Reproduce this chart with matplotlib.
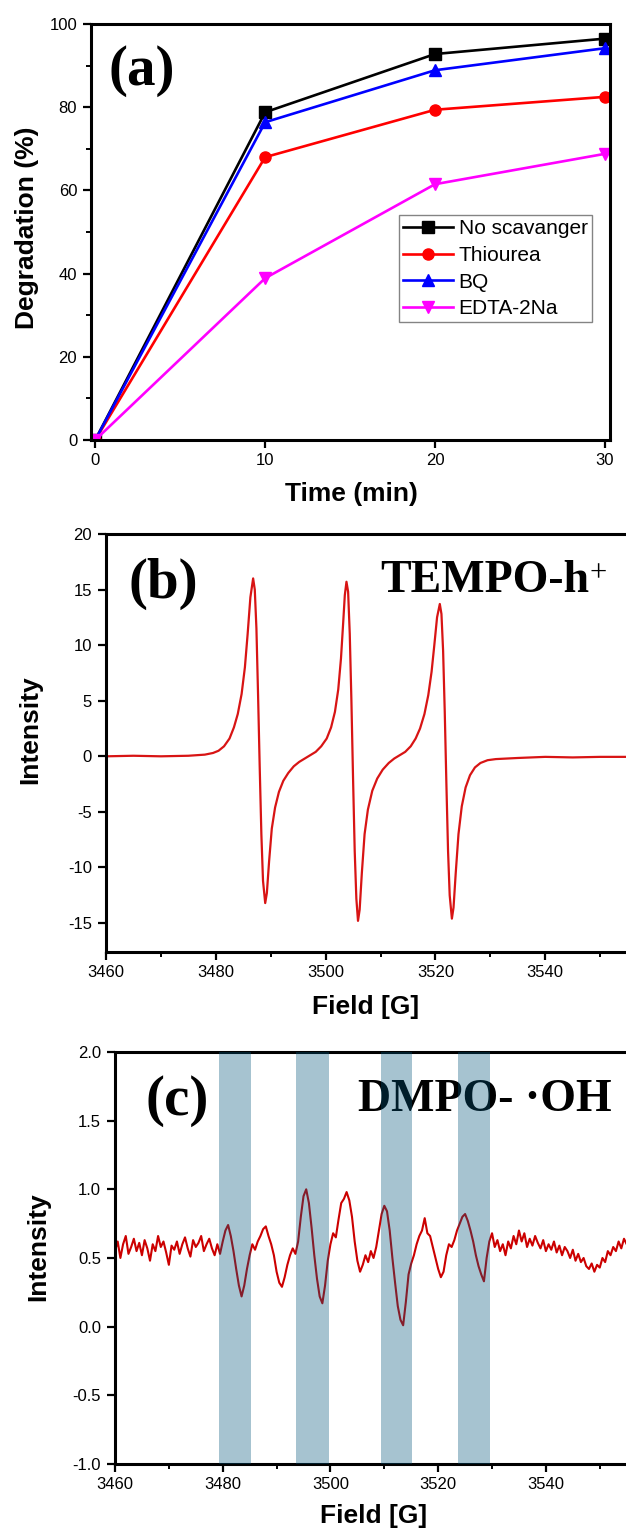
import matplotlib

matplotlib.use("Agg")
import matplotlib.pyplot as plt  # noqa: E402
import numpy as np  # noqa: E402

plt.rcParams["font.family"] = "Liberation Sans"
plt.rcParams["axes.unicode_minus"] = False

# ---- panel (a): scavenger experiment ----
TIME = [0, 10, 20, 30]
NO_SCAV = [0.0, 78.8, 92.8, 96.5]
THIOUREA = [0.0, 68.0, 79.4, 82.5]
BQ = [0.0, 76.4, 88.9, 94.2]
EDTA = [0.0, 38.9, 61.5, 68.8]
SERIES_A = [("No scavanger", NO_SCAV, "black", "s"),
            ("Thiourea", THIOUREA, "#ff0000", "o"),
            ("BQ", BQ, "#0000ff", "^"),
            ("EDTA-2Na", EDTA, "#ff00ff", "v")]

# ---- panel (b): TEMPO-h+ EPR spectrum ----
FIELD_B = [3460, 3465, 3470, 3475, 3478, 3479.5, 3480.5, 3481.5, 3482.5, 3483.3, 3484, 3484.7,
           3485.3, 3485.8, 3486.3, 3486.8, 3487.1, 3487.4, 3487.7, 3488.0, 3488.3, 3488.6, 3489.0,
           3489.3, 3489.7, 3490.2, 3490.8, 3491.5, 3492.3, 3493.2, 3494.2, 3495.2, 3496.2, 3497.2,
           3498.2, 3499.2, 3500.2, 3501.0, 3501.7, 3502.3, 3502.8, 3503.2, 3503.5, 3503.8, 3504.1,
           3504.4, 3504.7, 3505.0, 3505.3, 3505.6, 3505.9, 3506.2, 3506.6, 3507.1, 3507.7, 3508.5,
           3509.4, 3510.4, 3511.5, 3512.5, 3513.5, 3514.5, 3515.5, 3516.4, 3517.2, 3518.0, 3518.7,
           3519.3, 3519.8, 3520.3, 3520.8, 3521.1, 3521.4, 3521.7, 3522.0, 3522.3, 3522.6, 3523.0,
           3523.3, 3523.7, 3524.2, 3524.8, 3525.5, 3526.3, 3527.2, 3528.2, 3529.5, 3531, 3535, 3540,
           3545, 3550, 3556]
INT_B = [0.0, 0.05, 0.0, 0.05, 0.15, 0.3, 0.5, 0.9, 1.6, 2.6, 3.8, 5.6,
         8.0, 11.0, 14.3, 16.0, 15.0, 11.5, 5.5, -1.0, -7.0, -11.2, -13.2,
         -12.3, -9.5, -6.5, -4.6, -3.2, -2.2, -1.5, -0.9, -0.5, -0.2, 0.1,
         0.4, 0.9, 1.6, 2.6, 4.0, 6.0, 8.8, 12.0, 14.5, 15.7, 14.8,
         11.0, 5.0, -2.0, -8.5, -12.8, -14.8, -13.8, -10.5, -7.0, -4.8, -3.1,
         -2.0, -1.2, -0.6, -0.2, 0.1, 0.4, 0.9, 1.6, 2.5, 3.8, 5.5,
         7.6, 10.0, 12.5, 13.7, 12.8, 9.5, 4.0, -2.5, -8.5, -12.5, -14.6,
         -13.6, -10.5, -7.0, -4.5, -2.8, -1.7, -1.0, -0.6, -0.35, -0.25, -0.15, -0.05,
         -0.1, -0.05, -0.05]

# ---- panel (c): DMPO-OH EPR spectrum, sampled every 0.5 G from 3460 G ----
FIELD_C_START = 3460.0
FIELD_C_STEP = 0.5
INT_C = [
    0.55, 0.62, 0.50, 0.60, 0.66, 0.53, 0.58, 0.64, 0.55, 0.61,
    0.52, 0.63, 0.57, 0.48, 0.60, 0.55, 0.66, 0.58, 0.62, 0.54,
    0.45, 0.59, 0.56, 0.62, 0.53, 0.60, 0.65, 0.57, 0.51, 0.63,
    0.58, 0.61, 0.66, 0.55, 0.60, 0.64, 0.57, 0.52, 0.60, 0.53,
    0.62, 0.70, 0.74, 0.66, 0.55, 0.42, 0.30, 0.22, 0.30, 0.42,
    0.52, 0.60, 0.56, 0.62, 0.66, 0.71, 0.73, 0.66, 0.60, 0.52,
    0.40, 0.32, 0.29, 0.36, 0.45, 0.52, 0.57, 0.53, 0.62, 0.80,
    0.95, 1.00, 0.90, 0.72, 0.52, 0.35, 0.22, 0.17, 0.30, 0.48,
    0.60, 0.68, 0.65, 0.78, 0.90, 0.93, 0.98, 0.92, 0.80, 0.62,
    0.48, 0.40, 0.45, 0.52, 0.47, 0.55, 0.50, 0.58, 0.70, 0.82,
    0.88, 0.84, 0.70, 0.50, 0.32, 0.15, 0.05, 0.01, 0.18, 0.38,
    0.46, 0.52, 0.60, 0.66, 0.70, 0.79, 0.68, 0.66, 0.58, 0.50,
    0.42, 0.36, 0.40, 0.52, 0.60, 0.58, 0.63, 0.70, 0.75, 0.80,
    0.82, 0.77, 0.70, 0.62, 0.52, 0.44, 0.38, 0.33, 0.50, 0.62,
    0.68, 0.58, 0.63, 0.55, 0.60, 0.52, 0.62, 0.57, 0.66, 0.60,
    0.70, 0.62, 0.68, 0.58, 0.64, 0.59, 0.66, 0.61, 0.57, 0.63,
    0.55, 0.60, 0.56, 0.62, 0.54, 0.59, 0.52, 0.58, 0.55, 0.50,
    0.56, 0.48, 0.53, 0.47, 0.50, 0.44, 0.42, 0.46, 0.40, 0.45,
    0.43, 0.50, 0.47, 0.55, 0.52, 0.58, 0.55, 0.62, 0.57, 0.64,
    0.60, 0.58, 0.62,
]
BANDS_C = [(3479.4, 3485.2), (3493.6, 3499.7), (3509.4, 3515.1), (3523.6, 3529.6)]

TICK_FS, LABEL_FS = 12, 19
SERIF = "Liberation Serif"


def style_axes(ax):
    for s in ax.spines.values():
        s.set_linewidth(2.2)
    ax.tick_params(which="major", direction="out", length=6, width=1.6, labelsize=TICK_FS)
    ax.tick_params(which="minor", direction="out", length=3.5, width=1.4)
    ax.tick_params(axis="x", pad=3.5)
    ax.tick_params(axis="y", pad=4)
    ax.tick_params(top=False, right=False, which="both")


fig = plt.figure(figsize=(6.26, 15.33), dpi=100)

# (a)
ax1 = fig.add_axes([0.1454, 0.7130, 0.8291, 0.2713])
for lab, vals, col, mk in SERIES_A:
    ax1.plot(TIME, vals, color=col, marker=mk, ms=8, lw=1.9, label=lab)
ax1.set_xlim(-0.25, 30.3)
ax1.set_ylim(0, 100)
ax1.set_xticks([0, 10, 20, 30])
ax1.set_yticks([0, 20, 40, 60, 80, 100])
ax1.set_yticks([10, 30, 50, 70, 90], minor=True)
style_axes(ax1)
ax1.set_xlabel("Time (min)", fontsize=LABEL_FS, fontweight="bold")
ax1.set_ylabel("Degradation (%)", fontsize=LABEL_FS, fontweight="bold")
ax1.xaxis.set_label_coords(0.501, -0.101)
ax1.yaxis.set_label_coords(-0.100, 0.51)
ax1.text(0.098, 0.887, "(a)", transform=ax1.transAxes, fontsize=41, fontweight="bold",
         family=SERIF, ha="center", va="center")
leg = ax1.legend(loc="upper right", bbox_to_anchor=(0.965, 0.541), borderaxespad=0,
                 fontsize=15, numpoints=1, handlelength=2.4, handletextpad=0.28,
                 labelspacing=0.37, borderpad=0.2, fancybox=False)
leg.get_frame().set_edgecolor("#666666")
leg.get_frame().set_linewidth(1.0)

# (b)
ax2 = fig.add_axes([0.1693, 0.3790, 0.8420, 0.2727])
ax2.plot(FIELD_B, INT_B, color="#d81414", lw=1.6)
ax2.set_xlim(3460, 3556)
ax2.set_ylim(-17.6, 20)
ax2.set_xticks([3460, 3480, 3500, 3520, 3540])
ax2.set_xticks([3470, 3490, 3510, 3530, 3550], minor=True)
ax2.set_yticks([-15, -10, -5, 0, 5, 10, 15, 20])
style_axes(ax2)
ax2.set_xlabel("Field [G]", fontsize=LABEL_FS, fontweight="bold")
ax2.set_ylabel("Intensity", fontsize=LABEL_FS, fontweight="bold")
ax2.xaxis.set_label_coords(0.493, -0.103)
ax2.yaxis.set_label_coords(-0.121, 0.531)
ax2.text(0.109, 0.88, "(b)", transform=ax2.transAxes, fontsize=41, fontweight="bold",
         family=SERIF, ha="center", va="center")
tb = ax2.text(0.918, 0.861, "TEMPO-h", transform=ax2.transAxes, fontsize=33,
              fontweight="bold", family=SERIF, ha="right", va="baseline")
ax2.annotate("+", xy=(1.0, 1.02), xycoords=tb, fontsize=22, family=SERIF,
             ha="left", va="top")

# (c)
ax3 = fig.add_axes([0.1837, 0.0450, 0.8260, 0.2688])
field_c = FIELD_C_START + FIELD_C_STEP * np.arange(len(INT_C))
ax3.plot(field_c, INT_C, color="#cc0000", lw=1.5, zorder=2)
for lo, hi in BANDS_C:
    ax3.axvspan(lo, hi, color="#01547a", alpha=0.35, lw=0, zorder=5)
ax3.set_xlim(3460, 3556)
ax3.set_ylim(-1.0, 2.0)
ax3.set_xticks([3460, 3480, 3500, 3520, 3540])
ax3.set_xticks([3470, 3490, 3510, 3530, 3550], minor=True)
ax3.set_yticks([-1.0, -0.5, 0.0, 0.5, 1.0, 1.5, 2.0])
ax3.yaxis.set_major_formatter(matplotlib.ticker.FormatStrFormatter("%.1f"))
style_axes(ax3)
ax3.set_xlabel("Field [G]", fontsize=LABEL_FS, fontweight="bold")
ax3.set_ylabel("Intensity", fontsize=LABEL_FS, fontweight="bold")
ax3.xaxis.set_label_coords(0.501, -0.097)
ax3.yaxis.set_label_coords(-0.126, 0.527)
ax3.text(0.12, 0.881, "(c)", transform=ax3.transAxes, fontsize=41, fontweight="bold",
         family=SERIF, ha="center", va="center", zorder=2)
ax3.text(0.961, 0.857, "DMPO- ·OH", transform=ax3.transAxes, fontsize=33,
         fontweight="bold", family=SERIF, ha="right", va="baseline", zorder=2)

fig.savefig("out.png", dpi=100)
